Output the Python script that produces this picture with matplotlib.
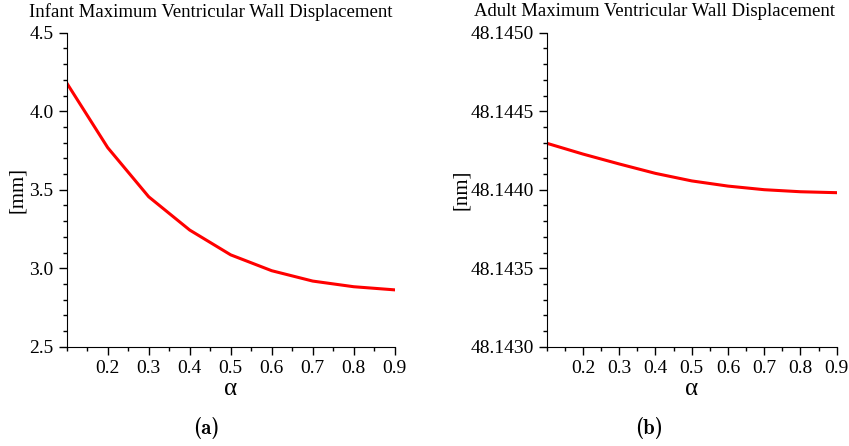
import numpy as np
import matplotlib
matplotlib.use('Agg')
from matplotlib import pyplot as plt
from matplotlib.ticker import MultipleLocator, FormatStrFormatter

alpha = [0.1, 0.2, 0.3, 0.4, 0.5, 0.6, 0.7, 0.8, 0.9]
infant_disp = [4.18, 3.768, 3.455, 3.243, 3.085, 2.984, 2.918, 2.882, 2.862]
adult_disp = [48.144296, 48.144227, 48.144164, 48.144104, 48.144056,
              48.144023, 48.144000, 48.143987, 48.143981]
xticks = [0.2, 0.3, 0.4, 0.5, 0.6, 0.7, 0.8, 0.9]

plt.rcParams['font.family'] = 'Liberation Serif'

fig = plt.figure(figsize=(8.49, 4.46), dpi=100)
W, H = 849.0, 446.0

def setup(ax, ylim, ystep, fmt, ylabel, ylab_x):
    ax.set_xlim(0.1, 0.9)
    ax.set_ylim(*ylim)
    for s in ['top', 'right']:
        ax.spines[s].set_visible(False)
    ax.set_xticks(xticks)
    ax.xaxis.set_minor_locator(MultipleLocator(0.05))
    ax.yaxis.set_major_locator(MultipleLocator(ystep))
    ax.yaxis.set_minor_locator(MultipleLocator(ystep / 5))
    ax.yaxis.set_major_formatter(FormatStrFormatter(fmt))
    ax.xaxis.set_major_formatter(FormatStrFormatter('%.1f'))
    ax.tick_params(which='major', direction='out', length=6, width=1, labelsize=14)
    ax.tick_params(which='minor', direction='out', length=3, width=1)
    ax.set_xlabel('α', fontsize=18, labelpad=1)
    ax.set_ylabel(ylabel, fontsize=15)
    # y label at a fixed pixel column (right edge of rotated text)
    x0 = ax.get_position().x0 * W
    w = ax.get_position().width * W
    ax.yaxis.set_label_coords((ylab_x - x0) / w, 0.5)

ax1 = fig.add_axes([66.7 / W, 99.3 / H, 328.0 / W, 314.0 / H])
ax1.plot(alpha, infant_disp, color='red', lw=2.2)
setup(ax1, (2.5, 4.5), 0.5, '%.1f', '[mm]', 27)

ax2 = fig.add_axes([546.7 / W, 99.3 / H, 290.0 / W, 314.0 / H])
ax2.plot(alpha, adult_disp, color='red', lw=2.2)
setup(ax2, (48.1430, 48.1450), 0.0005, '%.4f', '[nm]', 471)

fig.text(211 / W, 1 - 12 / H, 'Infant Maximum Ventricular Wall Displacement',
         ha='center', va='center', fontsize=13.5)
fig.text(655 / W, 1 - 12 / H, 'Adult Maximum Ventricular Wall Displacement',
         ha='center', va='center', fontsize=13.5)
fig.text(206 / W, 1 - 428 / H, '(a)', family='cmb10', ha='center', va='center', fontsize=15)
fig.text(649 / W, 1 - 428 / H, '(b)', family='cmb10', ha='center', va='center', fontsize=15)

fig.savefig('out.png', dpi=100)
